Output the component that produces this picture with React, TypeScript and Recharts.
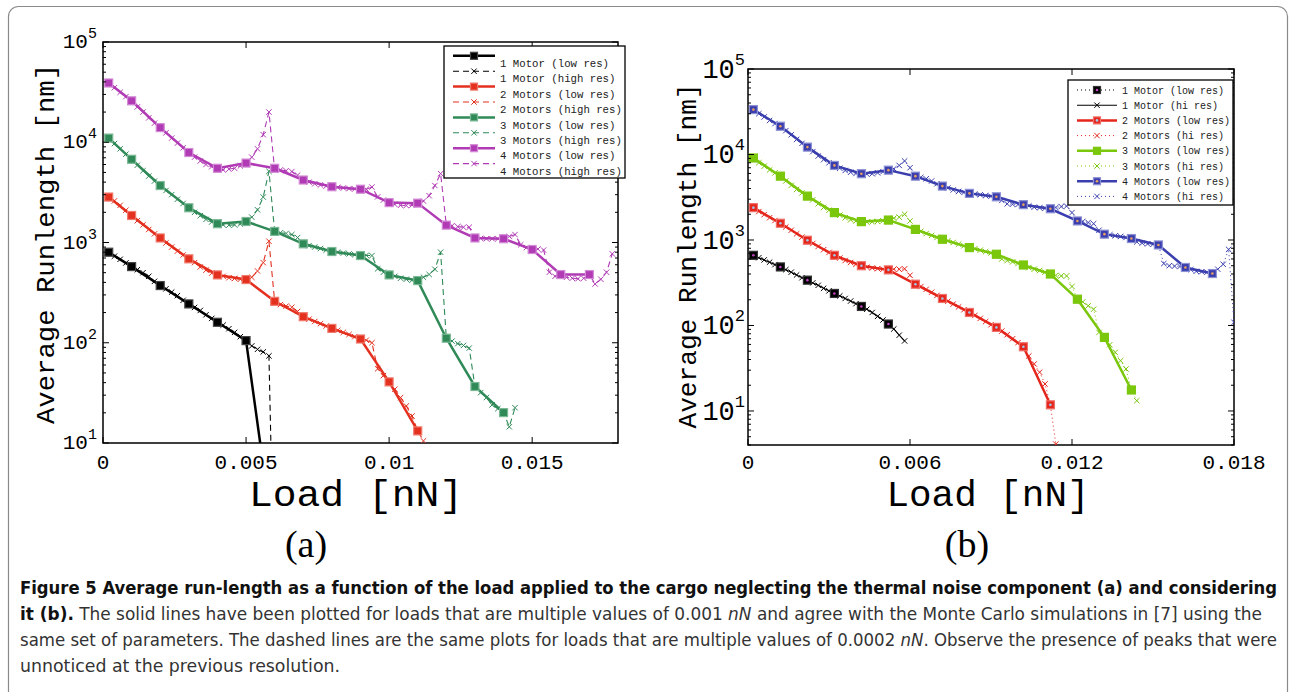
import React from 'react';
import { LineChart, Line, XAxis, YAxis, ReferenceArea } from 'recharts';

const MONO = '"Liberation Mono", "DejaVu Sans Mono", monospace';
const SERIF = '"Liberation Serif", "DejaVu Serif", serif';
const COND = '"Liberation Sans Narrow", "DejaVu Sans Condensed", "Open Sans", sans-serif';

// loads [nN]
const LOAD_LOW_A = [0.0002, 0.001, 0.002, 0.003, 0.004, 0.005, 0.006, 0.007, 0.008, 0.009, 0.01, 0.011, 0.012, 0.013, 0.014, 0.015, 0.016, 0.017];
const LOAD_LOW_B = [0.0002, 0.0012, 0.0022, 0.0032, 0.0042, 0.0052, 0.0062, 0.0072, 0.0082, 0.0092, 0.0102, 0.0112, 0.0122, 0.0132, 0.0142, 0.0152, 0.0162, 0.0172];
const LOAD_HIGH = [
  0.0002, 0.0004, 0.0006, 0.0008, 0.001, 0.0012, 0.0014, 0.0016, 0.0018, 0.002,
  0.0022, 0.0024, 0.0026, 0.0028, 0.003, 0.0032, 0.0034, 0.0036, 0.0038, 0.004,
  0.0042, 0.0044, 0.0046, 0.0048, 0.005, 0.0052, 0.0054, 0.0056, 0.0058, 0.006,
  0.0062, 0.0064, 0.0066, 0.0068, 0.007, 0.0072, 0.0074, 0.0076, 0.0078, 0.008,
  0.0082, 0.0084, 0.0086, 0.0088, 0.009, 0.0092, 0.0094, 0.0096, 0.0098, 0.01,
  0.0102, 0.0104, 0.0106, 0.0108, 0.011, 0.0112, 0.0114, 0.0116, 0.0118, 0.012,
  0.0122, 0.0124, 0.0126, 0.0128, 0.013, 0.0132, 0.0134, 0.0136, 0.0138, 0.014,
  0.0142, 0.0144, 0.0146, 0.0148, 0.015, 0.0152, 0.0154, 0.0156, 0.0158, 0.016,
  0.0162, 0.0164, 0.0166, 0.0168, 0.017, 0.0172, 0.0174, 0.0176, 0.0178, 0.018,
];

// panel (a): average runlength [nm], no thermal noise
const M1_LOW_A = [800, 575, 372, 244, 160, 105, 0.9];
const M2_LOW_A = [2840, 1860, 1110, 687, 475, 427, 259, 182, 139, 109, 40.7, 13.2];
const M3_LOW_A = [11000, 6760, 3700, 2220, 1540, 1620, 1290, 970, 813, 741, 475, 417, 111, 36.6, 20.1];
const M4_LOW_A = [39000, 25900, 14000, 7900, 5500, 6200, 5500, 4200, 3600, 3400, 2500, 2470, 1490, 1110, 1090, 851, 479, 479];

const M1_HIGH_A = [
  790, 730, 680, 625, 575, 535, 500, 460, 410, 372,
  345, 320, 295, 265, 244, 225, 210, 190, 175, 160,
  150, 138, 127, 115, 105, 93, 86, 81, 74, 0.2,
];
const M2_HIGH_A = [
  2800, 2600, 2350, 2100, 1860, 1650, 1500, 1350, 1220, 1110,
  990, 900, 820, 750, 687, 630, 570, 530, 495, 475,
  460, 445, 438, 430, 427, 450, 520, 630, 1030, 259,
  240, 232, 226, 205, 182, 172, 163, 155, 147, 139,
  133, 127, 121, 115, 109, 106, 100, 55, 47, 40.7,
  34.4, 28.4, 23.4, 18.6, 13.2, 10.5,
];
const M3_HIGH_A = [
  10800, 9700, 8600, 7600, 6760, 5900, 5200, 4600, 4100, 3700,
  3300, 3000, 2700, 2450, 2220, 2000, 1850, 1700, 1600, 1540,
  1500, 1490, 1500, 1530, 1620, 1790, 2120, 2840, 5130, 1290,
  1250, 1230, 1200, 1120, 970, 930, 900, 870, 840, 813,
  800, 785, 770, 755, 741, 745, 740, 546, 505, 475,
  460, 440, 430, 420, 417, 450, 480, 541, 800, 111,
  104, 98, 94, 88.5, 36.6, 31.8, 28.4, 24, 22, 20.1,
  14.5, 22.5,
];
const M4_HIGH_A = [
  38000, 35000, 31500, 28500, 25900, 22500, 20000, 17500, 15500, 14000,
  12400, 11000, 9800, 8800, 7900, 7100, 6500, 6000, 5700, 5500,
  5300, 5400, 5500, 5800, 6200, 7100, 8600, 11900, 20000, 5300,
  5300, 5200, 5100, 4700, 4200, 4000, 3850, 3750, 3650, 3600,
  3550, 3500, 3450, 3420, 3400, 3400, 3570, 2850, 2650, 2500,
  2400, 2350, 2340, 2360, 2470, 2590, 2930, 3700, 4860, 1490,
  1470, 1440, 1420, 1420, 1110, 1100, 1090, 1090, 1090, 1090,
  1150, 1200, 950, 890, 851, 860, 840, 505, 460, 479,
  450, 440, 435, 440, 479, 386, 430, 505, 770,
];

// panel (b): with thermal noise
const M1_LOW_B = [662, 484, 339, 237, 167, 104];
const M2_LOW_B = [2390, 1570, 993, 662, 500, 447, 304, 207, 142, 95, 56.4, 11.8];
const M3_LOW_B = [9100, 5580, 3260, 2090, 1640, 1710, 1330, 1020, 815, 681, 510, 400, 203, 72.6, 17.6];
const M4_LOW_B = [33500, 21400, 12200, 7450, 5960, 6560, 5580, 4270, 3510, 3200, 2590, 2320, 1670, 1170, 1040, 875, 477, 405];

const M1_HIGH_B = [
  650, 620, 585, 550, 515, 484, 450, 420, 390, 362,
  339, 315, 295, 272, 254, 237, 222, 207, 193, 180,
  167, 155, 142, 128, 116, 104, 91, 77, 66,
];
const M2_HIGH_B = [
  2350, 2150, 1980, 1820, 1690, 1570, 1420, 1300, 1180, 1080,
  993, 910, 840, 770, 715, 662, 615, 575, 545, 520,
  500, 480, 470, 462, 455, 447, 455, 455, 460, 387,
  304, 285, 265, 245, 225, 207, 192, 178, 165, 153,
  142, 131, 121, 111, 102, 95, 86, 78, 70, 63,
  56.4, 44, 35.5, 28.4, 20.7, 11.8, 4.1,
];
const M3_HIGH_B = [
  8900, 8000, 7300, 6600, 6100, 5580, 4900, 4350, 3900, 3550,
  3260, 2950, 2650, 2400, 2230, 2090, 1950, 1820, 1720, 1670,
  1640, 1620, 1630, 1650, 1680, 1710, 1800, 1850, 2000, 1670,
  1330, 1260, 1190, 1130, 1070, 1020, 975, 935, 895, 855,
  815, 790, 760, 730, 705, 681, 600, 575, 555, 530,
  510, 475, 455, 440, 420, 400, 385, 380, 380, 286,
  203, 189, 170, 155, 83, 72.6, 59.6, 48.5, 38.7, 31,
  17.6, 13.2,
];
const M4_HIGH_B = [
  33000, 30000, 27500, 25000, 23000, 21400, 19000, 17000, 15000, 13500,
  12200, 10800, 9600, 8700, 8000, 7450, 6900, 6500, 6200, 6000,
  5960, 5900, 5950, 6100, 6300, 6560, 6800, 7450, 8400, 7000,
  5580, 5400, 5200, 4900, 4550, 4270, 4050, 3850, 3700, 3600,
  3510, 3450, 3380, 3300, 3250, 3200, 2900, 2650, 2620, 2600,
  2590, 2500, 2420, 2380, 2350, 2320, 2400, 2460, 2490, 2090,
  1670, 1650, 1600, 1550, 1300, 1170, 1150, 1120, 1100, 1070,
  1040, 950, 920, 900, 890, 875, 530, 500, 495, 490,
  477, 450, 430, 425, 420, 405, 455, 520, 777, 109,
];

const X_TICKS_A = [0, 0.005, 0.01, 0.015];
const X_TICKS_B = [0, 0.006, 0.012, 0.018];
const Y_MAJOR = [10, 100, 1000, 10000, 100000];
const MINOR_STEPS = [2, 3, 4, 5, 6, 7, 8, 9];

const LEGEND_A = ['1 Motor (low res)', '1 Motor (high res)', '2 Motors (low res)', '2 Motors (high res)', '3 Motors (low res)', '3 Motors (high res)', '4 Motors (low res)', '4 Motors (high res)'];
const LEGEND_B = ['1 Motor (low res)', '1 Motor (hi res)', '2 Motors (low res)', '2 Motors (hi res)', '3 Motors (low res)', '3 Motors (hi res)', '4 Motors (low res)', '4 Motors (hi res)'];

type Pt = { x: number; y: number };
const pts = (xs: number[], ys: number[]): Pt[] => ys.map((y, i) => ({ x: xs[i], y }));

type Motor = {
  color: string;
  edge: string;
  center?: string;
  lowDash?: string;
  highDash?: string;
  highWidth: number;
};

const MOTORS_A: Motor[] = [
  { color: '#000000', edge: '#444444', highDash: '6 4', highWidth: 1.1 },
  { color: '#e3301f', edge: '#ef7a6c', highDash: '6 4', highWidth: 1.1 },
  { color: '#2f8a58', edge: '#7cb895', highDash: '6 4', highWidth: 1.1 },
  { color: '#b13bb5', edge: '#d38ad6', highDash: '6 4', highWidth: 1.1 },
];
const MOTORS_B: Motor[] = [
  { color: '#000000', edge: '#333333', center: '#c040c0', lowDash: '1 3', highWidth: 1.1 },
  { color: '#e4261c', edge: '#ef7068', center: '#9fc8e8', highDash: '1 3', highWidth: 1 },
  { color: '#7ac70c', edge: '#7ac70c', highDash: '1 3', highWidth: 1 },
  { color: '#3b3fae', edge: '#8c90d4', center: '#e8a060', highDash: '1 3', highWidth: 1 },
];

const squareDot = (m: Motor, size: number) => (p: any) => {
  const { cx, cy, index } = p;
  if (cx == null || cy == null || !isFinite(cy)) return <g key={`s${index}`} />;
  const h = size / 2;
  return (
    <g key={`s${index}`}>
      <rect x={cx - h} y={cy - h} width={size} height={size} fill={m.color} stroke={m.edge} strokeWidth={1.2} />
      {m.center && <circle cx={cx} cy={cy} r={1.3} fill={m.center} />}
    </g>
  );
};

const crossDot = (color: string, s: number) => (p: any) => {
  const { cx, cy, index } = p;
  if (cx == null || cy == null || !isFinite(cy)) return <g key={`c${index}`} />;
  return (
    <path
      key={`c${index}`}
      d={`M${cx - s},${cy - s}L${cx + s},${cy + s}M${cx - s},${cy + s}L${cx + s},${cy - s}`}
      stroke={color}
      strokeWidth={1}
      fill="none"
    />
  );
};

type AxisCfg = {
  plotW: number;
  plotH: number;
  yFont: number;
  expFont: number;
  yGap: number;
  yDy: number;
  expDy: number;
  xDy: number;
};

const YTick = (p: any, c: AxisCfg) => {
  const { x, y, payload } = p;
  const v = payload.value as number;
  const isMajor = Y_MAJOR.includes(v);
  const len = isMajor ? 6 : 3;
  return (
    <g>
      <line x1={x} x2={x + len} y1={y} y2={y} stroke="#000" strokeWidth={1} />
      <line x1={x + c.plotW - len} x2={x + c.plotW} y1={y} y2={y} stroke="#000" strokeWidth={1} />
      {isMajor && (
        <text x={x - c.yGap} y={y + c.yDy} textAnchor="end" fontFamily={MONO} fontSize={c.yFont} fill="#000">
          10
          <tspan dy={-c.expDy} fontSize={c.expFont}>{String(Math.round(Math.log10(v)))}</tspan>
        </text>
      )}
    </g>
  );
};

const XTick = (p: any, c: AxisCfg) => {
  const { x, y, payload } = p;
  return (
    <g>
      <line x1={x} x2={x} y1={y} y2={y - 6} stroke="#000" strokeWidth={1} />
      <line x1={x} x2={x} y1={y - c.plotH} y2={y - c.plotH + 6} stroke="#000" strokeWidth={1} />
      <text x={x} y={y + c.xDy} textAnchor="middle" fontFamily={MONO} fontSize={21} fill="#000">
        {String(payload.value)}
      </text>
    </g>
  );
};

const Title = (p: { cx: number; cy: number; len: number; size: number; rotate?: boolean; text: string }) => (
  <text
    x={p.cx}
    y={p.cy}
    textAnchor="middle"
    fontFamily={MONO}
    fontSize={p.size}
    fill="#000"
    textLength={p.len}
    lengthAdjust="spacingAndGlyphs"
    transform={p.rotate ? `rotate(-90, ${p.cx}, ${p.cy})` : undefined}
  >
    {p.text}
  </text>
);

type PanelProps = {
  left: number;
  width: number;
  height: number;
  margin: { top: number; right: number; left: number; bottom: number };
  yWidth: number;
  xHeight: number;
  yDomain: [number, number];
  yTicks: number[];
  xTicks: number[];
  loadLow: number[];
  lows: number[][];
  highs: number[][];
  motors: Motor[];
  squareSize: number;
  cfg: AxisCfg;
  yTitle: { cx: number; cy: number; len: number };
  xTitle: { cx: number; cy: number; len: number };
};

function Panel(p: PanelProps) {
  return (
    <div style={{ position: 'absolute', left: p.left, top: 0 }}>
      <LineChart width={p.width} height={p.height} margin={p.margin}>
        <XAxis
          xAxisId="x"
          dataKey="x"
          type="number"
          domain={[0, 0.018]}
          ticks={p.xTicks}
          allowDataOverflow
          interval={0}
          axisLine={false}
          tickLine={false}
          tickSize={0}
          tickMargin={0}
          height={p.xHeight}
          tick={(t: any) => XTick(t, p.cfg)}
          label={<Title cx={p.xTitle.cx} cy={p.xTitle.cy} len={p.xTitle.len} size={37} text="Load [nN]" />}
        />
        <YAxis
          yAxisId="y"
          type="number"
          scale="log"
          domain={p.yDomain}
          ticks={p.yTicks}
          allowDataOverflow
          interval={0}
          axisLine={false}
          tickLine={false}
          tickSize={0}
          tickMargin={0}
          width={p.yWidth}
          tick={(t: any) => YTick(t, p.cfg)}
          label={<Title cx={p.yTitle.cx} cy={p.yTitle.cy} len={p.yTitle.len} size={26} rotate text="Average Runlength [nm]" />}
        />
        {p.motors.map((m, i) => (
          <Line
            key={`h${i}`}
            xAxisId="x"
            yAxisId="y"
            data={pts(LOAD_HIGH, p.highs[i])}
            dataKey="y"
            type="linear"
            stroke={m.color}
            strokeWidth={m.highWidth}
            strokeDasharray={m.highDash}
            dot={crossDot(m.color, 2.7)}
            activeDot={false}
            isAnimationActive={false}
          />
        ))}
        {p.motors.map((m, i) => (
          <Line
            key={`l${i}`}
            xAxisId="x"
            yAxisId="y"
            data={pts(p.loadLow, p.lows[i])}
            dataKey="y"
            type="linear"
            stroke={m.color}
            strokeWidth={m.lowDash ? 1 : 2.5}
            strokeDasharray={m.lowDash}
            dot={squareDot(m, p.squareSize)}
            activeDot={false}
            isAnimationActive={false}
          />
        ))}
        <ReferenceArea
          xAxisId="x"
          yAxisId="y"
          x1={0}
          x2={0.018}
          y1={p.yDomain[0]}
          y2={p.yDomain[1]}
          fill="none"
          fillOpacity={0}
          stroke="#000"
          strokeWidth={1.5}
          ifOverflow="visible"
        />
      </LineChart>
    </div>
  );
}

const LegendRows = (p: {
  labels: string[];
  motors: Motor[];
  x: number;
  y: number;
  w: number;
  h: number;
  row0: number;
  step: number;
  lineOff: number;
  s0: number;
  s1: number;
  tx: number;
  font: number;
  sq: number;
}) => (
  <g>
    <rect x={p.x} y={p.y} width={p.w} height={p.h} fill="#fff" stroke="#000" strokeWidth={1.3} />
    {p.labels.map((label, i) => {
      const m = p.motors[Math.floor(i / 2)];
      const low = i % 2 === 0;
      const ty = p.row0 + i * p.step;
      const ly = ty - p.lineOff;
      const mx = (p.s0 + p.s1) / 2;
      const dash = low ? m.lowDash : m.highDash;
      const width = low ? (m.lowDash ? 1 : 2.5) : m.highWidth;
      return (
        <g key={label}>
          <line x1={p.s0} x2={p.s1} y1={ly} y2={ly} stroke={m.color} strokeWidth={width} strokeDasharray={dash} />
          {low ? (
            <g>
              <rect x={mx - p.sq / 2} y={ly - p.sq / 2} width={p.sq} height={p.sq} fill={m.color} stroke={m.edge} strokeWidth={1.2} />
              {m.center && <circle cx={mx} cy={ly} r={1.3} fill={m.center} />}
            </g>
          ) : (
            <path d={`M${mx - 2.7},${ly - 2.7}L${mx + 2.7},${ly + 2.7}M${mx - 2.7},${ly + 2.7}L${mx + 2.7},${ly - 2.7}`} stroke={m.color} strokeWidth={1} />
          )}
          <text x={p.tx} y={ty + p.font * 0.35} fontFamily={MONO} fontSize={p.font} fill="#222">
            {label}
          </text>
        </g>
      );
    })}
  </g>
);

const yTicksFrom = (lo: number): number[] => {
  const out: number[] = [];
  [1, 10, 100, 1000, 10000].forEach((d) => {
    MINOR_STEPS.forEach((k) => {
      if (k * d >= lo) out.push(k * d);
    });
  });
  return [...out, ...Y_MAJOR].filter((v) => v >= lo).sort((a, b) => a - b);
};

export default function App() {
  const cfgA: AxisCfg = { plotW: 515, plotH: 401, yFont: 21, expFont: 15, yGap: 6, yDy: 6, expDy: 10, xDy: 26 };
  const cfgB: AxisCfg = { plotW: 486, plotH: 376, yFont: 27, expFont: 17, yGap: 3, yDy: 9, expDy: 13, xDy: 24 };
  return (
    <div style={{ position: 'absolute', left: 0, top: 0, width: 1294, height: 692, background: '#fff', overflow: 'hidden' }}>
      <Panel
        left={0}
        width={640}
        height={520}
        margin={{ top: 42, right: 22, left: 0, bottom: 0 }}
        yWidth={103}
        xHeight={77}
        yDomain={[10, 100000]}
        yTicks={yTicksFrom(10)}
        xTicks={X_TICKS_A}
        loadLow={LOAD_LOW_A}
        lows={[M1_LOW_A, M2_LOW_A, M3_LOW_A, M4_LOW_A]}
        highs={[M1_HIGH_A, M2_HIGH_A, M3_HIGH_A, M4_HIGH_A]}
        motors={MOTORS_A}
        squareSize={8}
        cfg={cfgA}
        yTitle={{ cx: 54, cy: 244, len: 360 }}
        xTitle={{ cx: 356, cy: 506, len: 214 }}
      />
      <Panel
        left={640}
        width={645}
        height={520}
        margin={{ top: 69, right: 51, left: 0, bottom: 0 }}
        yWidth={108}
        xHeight={75}
        yDomain={[4, 100000]}
        yTicks={yTicksFrom(4)}
        xTicks={X_TICKS_B}
        loadLow={LOAD_LOW_B}
        lows={[M1_LOW_B, M2_LOW_B, M3_LOW_B, M4_LOW_B]}
        highs={[M1_HIGH_B, M2_HIGH_B, M3_HIGH_B, M4_HIGH_B]}
        motors={MOTORS_B}
        squareSize={8}
        cfg={cfgB}
        yTitle={{ cx: 56, cy: 256, len: 345 }}
        xTitle={{ cx: 348, cy: 506, len: 203 }}
      />
      <svg width={1294} height={692} style={{ position: 'absolute', left: 0, top: 0, pointerEvents: 'none' }}>
        <rect x={8.5} y={6.5} width={1279} height={720} rx={10} fill="none" stroke="#8a8a8a" strokeWidth={1.2} />
        <LegendRows labels={LEGEND_A} motors={MOTORS_A} x={444} y={46} w={181} h={132} row0={63.3} step={15.4} lineOff={7.5} s0={453} s1={495} tx={500} font={10.7} sq={7} />
        <LegendRows labels={LEGEND_B} motors={MOTORS_B} x={1068} y={80} w={165} h={125} row0={90} step={15.2} lineOff={0} s0={1077} s1={1117} tx={1122} font={10} sq={7} />
        <text x={306} y={557} textAnchor="middle" fontFamily={SERIF} fontSize={38} fill="#000">(a)</text>
        <text x={967} y={557} textAnchor="middle" fontFamily={SERIF} fontSize={38} fill="#000">(b)</text>
        <g fontFamily={COND} fontSize={17.5} fill="#333">
          <text x={20} y={594} textLength={1257} lengthAdjust="spacingAndGlyphs" fontWeight="bold" fill="#111">
            Figure 5 Average run-length as a function of the load applied to the cargo neglecting the thermal noise component (a) and considering
          </text>
          <text x={20} y={620} textLength={1242} lengthAdjust="spacingAndGlyphs">
            <tspan fontWeight="bold" fill="#111">it (b).</tspan> The solid lines have been plotted for loads that are multiple values of 0.001 <tspan fontStyle="italic">nN</tspan> and agree with the Monte Carlo simulations in [7] using the
          </text>
          <text x={20} y={646} textLength={1257} lengthAdjust="spacingAndGlyphs">
            same set of parameters. The dashed lines are the same plots for loads that are multiple values of 0.0002 <tspan fontStyle="italic">nN</tspan>. Observe the presence of peaks that were
          </text>
          <text x={20} y={672} textLength={320} lengthAdjust="spacingAndGlyphs">
            unnoticed at the previous resolution.
          </text>
        </g>
      </svg>
    </div>
  );
}
